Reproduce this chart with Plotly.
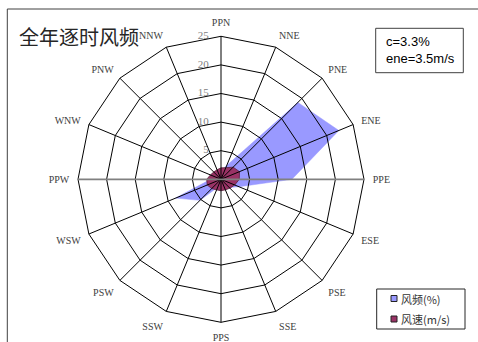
import plotly.graph_objects as go

# Wind directions (clockwise from north) and the two series
directions = ["PPN", "NNE", "PNE", "ENE", "PPE", "ESE", "PSE", "SSE",
              "PPS", "SSW", "PSW", "WSW", "PPW", "WNW", "PNW", "NNW"]
freq_pct = [1.4, 2.6, 19.0, 22.3, 12.4, 3.4, 2.0, 1.0,
            1.0, 1.5, 5.2, 8.6, 1.8, 1.2, 1.0, 1.0]
speed_ms = [2.0, 2.2, 3.0, 3.5, 3.2, 2.6, 2.2, 2.0,
            2.0, 2.0, 2.3, 2.6, 2.5, 2.0, 1.8, 1.8]
radial_ticks = [0, 5, 10, 15, 20, 25]
ring_values = [5, 10, 15, 20, 25]
r_max = 25
legend_names = ["风频(%)", "风速(m/s)"]

W, H = 478, 342
cx, cy, R = 221, 179.3, 143  # pixel centre and radius of the 25 ring

# a little headroom past the outer ring so its line is not clipped
r_axis_max = 25.4
R_axis = R * r_axis_max / r_max

FREQ_COLOR = "#9999FF"
SPEED_COLOR = "#993366"


def closed(seq):
    return list(seq) + [seq[0]]


def px(x):
    return x / W


def py(y):
    return 1 - y / H


fig = go.Figure()

# filled series
fig.add_trace(go.Scatterpolar(
    r=closed(freq_pct), theta=closed(directions), mode="lines",
    fill="toself", fillcolor=FREQ_COLOR, line=dict(color=FREQ_COLOR, width=0.5),
    showlegend=False, hoverinfo="skip"))
fig.add_trace(go.Scatterpolar(
    r=closed(speed_ms), theta=closed(directions), mode="lines",
    fill="toself", fillcolor=SPEED_COLOR, line=dict(color="#5a1f3c", width=0.8),
    showlegend=False, hoverinfo="skip"))

# radial scale labels along the north spoke (transparent markers set the gap)
fig.add_trace(go.Scatterpolar(
    r=radial_ticks, theta=[directions[0]] * len(radial_ticks),
    mode="markers+text", text=[str(v) for v in radial_ticks],
    textposition="middle left",
    textfont=dict(family="Liberation Serif", size=11, color="#808080"),
    marker=dict(size=18, color="rgba(0,0,0,0)"),
    cliponaxis=False, showlegend=False, hoverinfo="skip"))

# grid drawn on top of the fills: polygon rings and spokes
for v in ring_values:
    fig.add_trace(go.Scatterpolar(
        r=[v] * (len(directions) + 1), theta=closed(directions), mode="lines",
        line=dict(color="black", width=1), cliponaxis=False,
        showlegend=False, hoverinfo="skip"))

horizontal = {"PPE", "PPW"}
spoke_r, spoke_t, hz_r, hz_t = [], [], [], []
for d in directions:
    if d in horizontal:
        hz_r += [0, r_max, None]
        hz_t += [d, d, None]
    else:
        spoke_r += [0, r_max, None]
        spoke_t += [d, d, None]
fig.add_trace(go.Scatterpolar(
    r=spoke_r, theta=spoke_t, mode="lines", connectgaps=False,
    line=dict(color="black", width=1), cliponaxis=False,
    showlegend=False, hoverinfo="skip"))
# east-west axis line
fig.add_trace(go.Scatterpolar(
    r=hz_r, theta=hz_t, mode="lines", connectgaps=False,
    line=dict(color="#808080", width=1.8), cliponaxis=False,
    showlegend=False, hoverinfo="skip"))

# frame, info box and legend box with swatches
leg_x0, leg_y0, leg_x1, leg_y1 = 376.7, 289, 465, 329
shapes = [
    dict(type="rect", xref="paper", yref="paper",
         x0=px(7.3), y0=-0.2, x1=1.2, y1=py(9),
         line=dict(color="#404040", width=1)),
    dict(type="rect", xref="paper", yref="paper",
         x0=px(375.7), y0=py(72.7), x1=px(463.3), y1=py(28.3),
         line=dict(color="#404040", width=1), fillcolor="white"),
    dict(type="rect", xref="paper", yref="paper",
         x0=px(leg_x0), y0=py(leg_y1), x1=px(leg_x1), y1=py(leg_y0),
         line=dict(color="#262626", width=1), fillcolor="white"),
]
annotations = [
    dict(text="全年逐时风频", x=px(17), y=py(36), xref="paper", yref="paper",
         xanchor="left", yanchor="middle", showarrow=False,
         font=dict(family="Noto Sans CJK SC", size=20, color="#262626")),
    dict(text="c=3.3%<br>ene=3.5m/s", x=px(384), y=py(50.2),
         xref="paper", yref="paper", xanchor="left", yanchor="middle",
         showarrow=False, align="left",
         font=dict(family="Liberation Sans", size=13, color="black")),
]
for i, (name, col) in enumerate(zip(legend_names, [FREQ_COLOR, SPEED_COLOR])):
    yc = 298.5 + 20.5 * i
    shapes.append(dict(type="rect", xref="paper", yref="paper",
                       x0=px(391), y0=py(yc + 3), x1=px(397), y1=py(yc - 3),
                       fillcolor=col, line=dict(color="#222222", width=1)))
    annotations.append(dict(text=name, x=px(398.5), y=py(yc), xref="paper", yref="paper",
                            xanchor="left", yanchor="middle", showarrow=False,
                            font=dict(family="Noto Sans CJK SC", size=11, color="#333333")))

fig.update_layout(
    width=W, height=H,
    margin=dict(l=0, r=0, t=0, b=0),
    paper_bgcolor="white",
    showlegend=False,
    polar=dict(
        domain=dict(x=[px(cx - R_axis), px(cx + R_axis)],
                    y=[py(cy + R_axis), py(cy - R_axis)]),
        bgcolor="white",
        gridshape="linear",
        angularaxis=dict(
            type="category", categoryorder="array", categoryarray=directions,
            rotation=90, direction="clockwise",
            showgrid=False, showline=False,
            ticks="outside", ticklen=4, tickcolor="rgba(0,0,0,0)",
            tickfont=dict(family="Liberation Serif", size=10, color="#404040")),
        radialaxis=dict(
            range=[0, r_axis_max], showticklabels=False, showgrid=False,
            showline=False, ticks=""),
    ),
    shapes=shapes,
    annotations=annotations,
)

fig.write_html("out.html")
